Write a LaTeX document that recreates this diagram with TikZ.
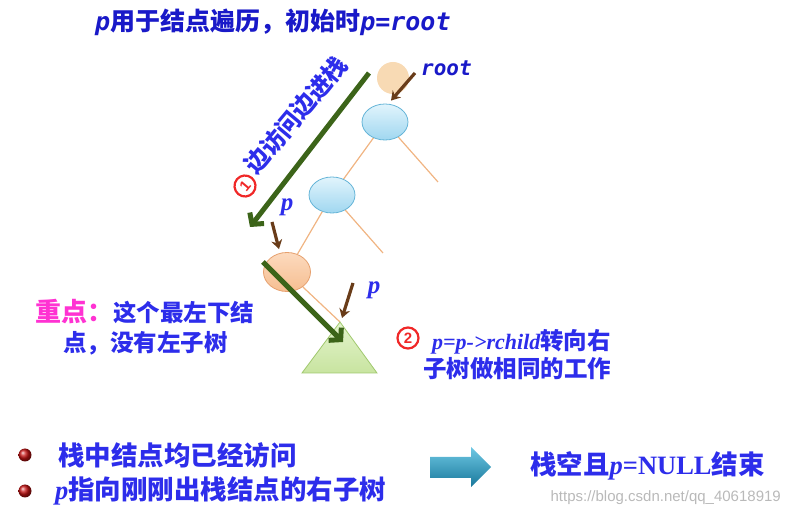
\documentclass[tikz,border=0pt]{standalone}
\usepackage{fontspec}
\setmainfont{Liberation Serif}
\setsansfont{Liberation Sans}
\setmonofont{DejaVu Sans Mono}
\newfontfamily\cjk{Noto Sans CJK SC}
\usetikzlibrary{shapes.geometric,arrows.meta}
\definecolor{tblue}{RGB}{25,25,200}
\definecolor{lblue}{RGB}{45,45,235}
\definecolor{dgreen}{RGB}{60,100,25}
\definecolor{brownA}{RGB}{105,60,25}
\definecolor{edgeor}{RGB}{240,180,130}
\definecolor{magentaT}{RGB}{255,50,210}
\definecolor{redc}{RGB}{240,40,40}
\definecolor{wm}{RGB}{185,185,185}
\definecolor{nodeblueT}{RGB}{225,244,252}
\definecolor{nodeblueB}{RGB}{160,215,240}
\definecolor{nodeblueD}{RGB}{100,180,215}
\definecolor{peach}{RGB}{248,218,180}
\definecolor{orangeT}{RGB}{252,218,190}
\definecolor{orangeB}{RGB}{246,190,145}
\definecolor{orangeD}{RGB}{230,160,110}
\definecolor{triT}{RGB}{228,244,205}
\definecolor{triB}{RGB}{200,228,160}
\definecolor{triD}{RGB}{160,200,110}
\definecolor{arrT}{RGB}{110,200,228}
\definecolor{arrB}{RGB}{25,120,155}
\definecolor{bulletc}{RGB}{200,20,20}
\begin{document}
\begin{tikzpicture}[x=1pt,y=-1pt,
  bnode/.style={ellipse,draw=nodeblueD,line width=0.8pt,top color=nodeblueT,bottom color=nodeblueB,minimum width=46pt,minimum height=36pt,inner sep=0},
  onode/.style={ellipse,draw=orangeD,line width=0.8pt,top color=orangeT,bottom color=orangeB,minimum width=47pt,minimum height=39pt,inner sep=0},
  tedge/.style={draw=edgeor,line width=1.2pt},
  garrow/.style={draw=dgreen,line width=5pt,-{Straight Barb[length=8pt,width=18pt]}},
  brarrow/.style={draw=brownA,line width=3.2pt,-{Stealth[length=9pt,width=11pt]}},
  numc/.style={circle,draw=redc,line width=2.2pt,minimum size=21pt,inner sep=0,text=redc,font=\sffamily\bfseries\fontsize{15}{15}\selectfont},
  ball/.style={circle,ball color=bulletc,minimum size=13pt,inner sep=0},
  txt/.style={inner sep=0,anchor=west}
]
\useasboundingbox (0,0) rectangle (788,518);

% title
\node[txt,text=tblue] (title) at (95,22) {\fontsize{25}{30}\selectfont\ttfamily\bfseries\itshape p\cjk\bfseries 用于结点遍历，初始时\ttfamily\bfseries\itshape p=root};

% tree nodes
\node[ellipse,fill=peach,minimum width=32pt,minimum height=32pt,inner sep=0] (root) at (393,78) {};
\node[bnode] (A) at (385,122) {};
\node[bnode] (B) at (332,195) {};
\node[onode] (C) at (287,272) {};
\coordinate (Ar) at (438,182);
\coordinate (Br) at (383,253);
\coordinate (tapex) at (340,322);
\coordinate (tl) at (302,373);
\coordinate (tr) at (377,373);

% edges
\draw[tedge] (A) -- (Ar);
\draw[tedge] (A) -- (B);
\draw[tedge] (B) -- (Br);
\draw[tedge] (B) -- (C);
\draw[tedge] (C) -- (tapex);

% subtree triangle
\shade[top color=triT,bottom color=triB,draw=triD,line width=0.8pt] (tapex) -- (tr) -- (tl) -- cycle;

% root label and arrow
\node[txt,text=tblue] (rootlbl) at (421,68) {\fontsize{21}{25}\selectfont\ttfamily\bfseries\itshape root};
\coordinate (ra) at (415,73);
\draw[brarrow] (ra) -- ([shift={(6,-3)}]A.north);

% green arrow 1 and its label
\coordinate (g1s) at (369,73);
\coordinate (g1e) at (250,227);
\draw[garrow] (g1s) -- (g1e);
\node[rotate=50,text=lblue,inner sep=0] (lbl1) at (296,115) {\fontsize{24}{28}\selectfont\cjk\bfseries 边访问边进栈};
\node[numc,rotate=50] (c1) at (245,186) {1};

% p at C
\node[text=lblue,inner sep=0] (p1) at (287,207) {\fontsize{25}{28}\selectfont\bfseries\itshape p};
\coordinate (pa1) at (272,222);
\draw[brarrow] (pa1) -- ([shift={(-8,-3)}]C.north);

% green arrow 2
\coordinate (g2s) at (263,262);
\coordinate (g2e) at (343,342);
\draw[garrow] (g2s) -- (g2e);

% p at triangle
\node[text=lblue,inner sep=0] (p2) at (374,290) {\fontsize{25}{28}\selectfont\bfseries\itshape p};
\coordinate (pa2) at (353,283);
\draw[brarrow] (pa2) -- ([shift={(2,-4)}]tapex);

% left remark
\node[txt] (imp1) at (35,312) {\cjk\bfseries{\color{magentaT}\fontsize{26}{30}\selectfont 重点：}{\color{lblue}\fontsize{23.5}{28}\selectfont 这个最左下结}};
\node[txt,text=lblue] (imp2) at (63,343) {\fontsize{23.5}{28}\selectfont\cjk\bfseries 点，没有左子树};

% right remark
\node[numc] (c2) at (408,338) {2};
\node[txt,text=lblue] (r1) at (432,342) {\fontsize{22}{26}\selectfont\bfseries\itshape p=p-{}>rchild\cjk\bfseries\upshape\fontsize{23.5}{28}\selectfont 转向右};
\node[txt,text=lblue] (r2) at (423,369) {\fontsize{23.5}{28}\selectfont\cjk\bfseries 子树做相同的工作};

% bottom
\node[ball] (bl1) at (25,455) {};
\node[ball] (bl2) at (25,491) {};
\node[txt,text=lblue] (b1) at (58,455) {\fontsize{26.5}{30}\selectfont\cjk\bfseries 栈中结点均已经访问};
\node[txt,text=lblue] (b2) at (55,491) {\fontsize{26.5}{30}\selectfont\bfseries\itshape p\cjk\bfseries\upshape 指向刚刚出栈结点的右子树};

\shade[top color=arrT,bottom color=arrB] (430,457) -- (471,457) -- (471,447) -- (491,467) -- (471,487) -- (471,478) -- (430,478) -- cycle;

\node[txt,text=lblue] (endt) at (530,466) {\fontsize{26.5}{30}\selectfont\cjk\bfseries 栈空且\rmfamily\bfseries\itshape p\upshape=NULL\cjk\bfseries 结束};

\node[inner sep=0,anchor=east,text=wm] (wmk) at (781,498) {\fontsize{15}{18}\selectfont\sffamily https://blog.csdn.net/qq\_40618919};
\end{tikzpicture}
\end{document}
